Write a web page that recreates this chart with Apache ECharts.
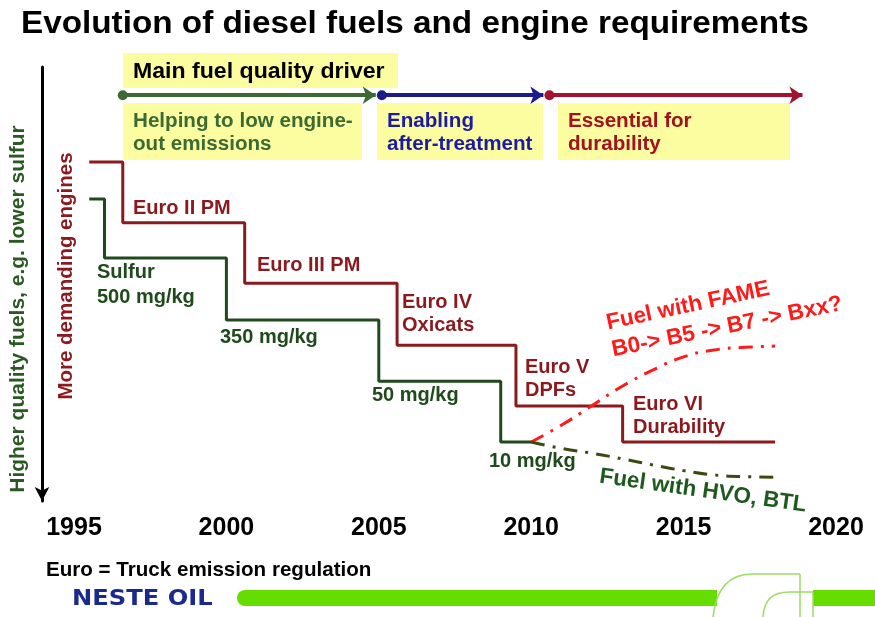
<!DOCTYPE html>
<html>
<head>
<meta charset="utf-8">
<title>Evolution of diesel fuels and engine requirements</title>
<script src="https://cdn.jsdelivr.net/npm/echarts@6/dist/echarts.min.js"></script>
<style>
	html, body { margin: 0; padding: 0; background: #fff; }
	#main { width: 875px; height: 617px; }
</style>
</head>
<body>
<div id="main"></div>
<script>
// x axis ticks (years)
var years = [1995, 2000, 2005, 2010, 2015, 2020];

// Euro emission limit steps: year of change, requirement level
var euroYears = [1995.5, 1996.6, 2000.6, 2005.6, 2009.5, 2013, 2018];
var euroLevels = [78.1, 64.1, 50.2, 35.9, 21.9, 13.6, 13.6];

// sulfur limit steps
var sulfurYears = [1995.5, 1996, 2000, 2005, 2009, 2010];
var sulfurLevels = [69.6, 56.0, 41.7, 27.6, 13.6, 13.6];

// future fuel paths after 2010
var futureYears = [2010, 2011, 2012, 2013, 2014, 2015, 2016, 2017, 2018];
var fameLevels = [13.6, 17.5, 22.0, 26.5, 30.2, 33.2, 34.8, 35.4, 35.7];
var hvoLevels = [13.6, 12.1, 11.0, 9.7, 8.3, 7.0, 6.0, 5.6, 5.5];

// main fuel quality driver phases
var driverStart = [1996.6, 2005.1, 2010.6];
var driverEnd = [2004.9, 2010.4, 2018.9];
var driverLevel = 93.5;

function pairs(xs, ys) {
	var out = [];
	for (var i = 0; i < xs.length; i++) {
		out.push([xs[i], ys[i]]);
	}
	return out;
}

var chart = echarts.init(document.getElementById('main'));

var sans = '"Liberation Sans", Arial, sans-serif';
var bold = function (size, family) {
	return 'bold ' + size + 'px ' + (family || sans);
};

var darkRed = '#8B1A1E';
var darkGreen = '#1F4A1B';
var boxYellow = '#FCFCA0';

// simple text element, opt can hold align / rotation / scaleX
function txt(text, x, y, color, font, opt) {
	var el = {
		type: 'text',
		x: x,
		y: y,
		z: 100,
		style: {
			text: text,
			fill: color,
			font: font,
			textAlign: 'left',
			textVerticalAlign: 'middle',
			align: 'left',
			verticalAlign: 'middle'
		}
	};
	if (opt) {
		for (var k in opt) {
			if (k === 'align') {
				el.style.textAlign = opt[k];
				el.style.align = opt[k];
			} else {
				el[k] = opt[k];
			}
		}
	}
	return el;
}

var driverColors = ['#3B6B33', '#1B1B8C', '#A3122E'];
var driverData = [];
for (var i = 0; i < driverStart.length; i++) {
	driverData.push({
		coords: [[driverStart[i], driverLevel], [driverEnd[i], driverLevel]],
		lineStyle: { color: driverColors[i] }
	});
}

var option = {
	backgroundColor: '#fff',
	animation: false,
	grid: {
		left: 74,
		right: 39,
		top: 67,
		bottom: 116
	},
	xAxis: {
		type: 'value',
		min: years[0],
		max: years[years.length - 1],
		interval: 5,
		axisLine: { show: false },
		axisTick: { show: false },
		splitLine: { show: false },
		axisLabel: {
			margin: 15,
			color: '#000',
			fontWeight: 'bold',
			fontSize: 25,
			fontFamily: sans,
			formatter: function (v) { return String(v); }
		}
	},
	yAxis: {
		type: 'value',
		min: 0,
		max: 100,
		offset: 32,
		axisLine: {
			show: true,
			symbol: ['arrow', 'none'],
			symbolSize: [11, 14],
			lineStyle: { color: '#000', width: 3 }
		},
		axisTick: { show: false },
		axisLabel: { show: false },
		splitLine: { show: false }
	},
	series: [{
		name: 'Euro',
		type: 'line',
		step: 'end',
		symbol: 'none',
		data: pairs(euroYears, euroLevels),
		lineStyle: { color: darkRed, width: 3 },
		z: 5
	}, {
		name: 'Sulfur',
		type: 'line',
		step: 'end',
		symbol: 'none',
		data: pairs(sulfurYears, sulfurLevels),
		lineStyle: { color: darkGreen, width: 3 },
		z: 5
	}, {
		name: 'Fuel with FAME',
		type: 'line',
		smooth: true,
		symbol: 'none',
		data: pairs(futureYears, fameLevels),
		lineStyle: { color: '#FF1A1A', width: 3, type: [14, 8, 3, 8] },
		z: 6
	}, {
		name: 'Fuel with HVO, BTL',
		type: 'line',
		smooth: true,
		symbol: 'none',
		data: pairs(futureYears, hvoLevels),
		lineStyle: { color: '#3A4A12', width: 3, type: [14, 8, 3, 8] },
		z: 6
	}, {
		name: 'Driver',
		type: 'lines',
		coordinateSystem: 'cartesian2d',
		symbol: ['circle', 'arrow'],
		symbolSize: [10, 13],
		lineStyle: { width: 4, opacity: 1, curveness: 0 },
		data: driverData,
		z: 7
	}],
	graphic: [
		// title
		txt('Evolution of diesel fuels and engine requirements', 21, 24, '#000', bold(32), { scaleX: 1.04 }),

		// yellow boxes
		{ type: 'rect', shape: { x: 123, y: 53, width: 275, height: 35 }, style: { fill: boxYellow }, z: 1 },
		{ type: 'rect', shape: { x: 123, y: 103, width: 239, height: 57 }, style: { fill: boxYellow }, z: 1 },
		{ type: 'rect', shape: { x: 377, y: 103, width: 166, height: 57 }, style: { fill: boxYellow }, z: 1 },
		{ type: 'rect', shape: { x: 558, y: 103, width: 232, height: 57 }, style: { fill: boxYellow }, z: 1 },

		txt('Main fuel quality driver', 133, 72, '#000', bold(22), { scaleX: 1.05 }),
		txt('Helping to low engine-', 133, 121, '#3B6B33', bold(20), { scaleX: 1.03 }),
		txt('out emissions', 133, 144, '#3B6B33', bold(20), { scaleX: 1.03 }),
		txt('Enabling', 387, 121, '#1B1BA6', bold(20), { scaleX: 1.03 }),
		txt('after-treatment', 387, 144, '#1B1BA6', bold(20), { scaleX: 1.03 }),
		txt('Essential for', 568, 121, '#A3121E', bold(20), { scaleX: 1.03 }),
		txt('durability', 568, 144, '#A3121E', bold(20), { scaleX: 1.03 }),

		// rotated axis captions
		txt('Higher quality fuels, e.g. lower sulfur', 18, 309, '#2A5A22', bold(21), { align: 'center', rotation: Math.PI / 2 }),
		txt('More demanding engines', 66, 276, darkRed, bold(20.5), { align: 'center', rotation: Math.PI / 2 }),

		// Euro steps
		txt('Euro II PM', 133, 208, darkRed, bold(20)),
		txt('Euro III PM', 257, 265, darkRed, bold(20)),
		txt('Euro IV', 402, 302, darkRed, bold(20)),
		txt('Oxicats', 402, 325, darkRed, bold(20)),
		txt('Euro V', 525, 367, darkRed, bold(20)),
		txt('DPFs', 525, 390, darkRed, bold(20)),
		txt('Euro VI', 633, 404, darkRed, bold(20)),
		txt('Durability', 633, 427, darkRed, bold(20)),

		// sulfur steps
		txt('Sulfur', 97, 272, darkGreen, bold(20)),
		txt('500 mg/kg', 97, 297, darkGreen, bold(20)),
		txt('350 mg/kg', 220, 337, darkGreen, bold(20)),
		txt('50 mg/kg', 372, 395, darkGreen, bold(20)),
		txt('10 mg/kg', 489, 461, darkGreen, bold(20)),

		// future fuels
		txt('Fuel with FAME', 688, 306, '#FF1A1A', bold(22.5), { align: 'center', rotation: 0.21 }),
		txt('B0-> B5 -> B7 -> Bxx?', 727, 327, '#FF1A1A', bold(22.5), { align: 'center', rotation: 0.2 }),
		txt('Fuel with HVO, BTL', 703, 491, '#1E5A1E', bold(22.5), { align: 'center', rotation: -0.14 }),

		// footer
		txt('Euro = Truck emission regulation', 46, 570, '#000', bold(21), { scaleX: 0.98 }),
		txt('NESTE OIL', 72, 599, '#1A2A8C', bold(22, '"DejaVu Sans", sans-serif'), { scaleX: 1.1 }),
		{ type: 'rect', shape: { x: 237, y: 590, width: 650, height: 16, r: 8 }, style: { fill: '#66DD00' }, z: 1 },
		{ type: 'rect', shape: { x: 717, y: 588, width: 96, height: 20 }, style: { fill: '#fff' }, z: 2 },
		{ type: 'bezierCurve', shape: { x1: 713, y1: 617, cpx1: 716, cpy1: 590, cpx2: 728, cpy2: 574, x2: 752, y2: 574 }, style: { stroke: '#9BDD66', lineWidth: 1.5, fill: null }, z: 3 },
		{ type: 'line', shape: { x1: 752, y1: 574, x2: 800, y2: 574 }, style: { stroke: '#9BDD66', lineWidth: 1.5 }, z: 3 },
		{ type: 'line', shape: { x1: 800, y1: 574, x2: 800, y2: 617 }, style: { stroke: '#9BDD66', lineWidth: 1.5 }, z: 3 },
		{ type: 'bezierCurve', shape: { x1: 763, y1: 617, cpx1: 764, cpy1: 600, cpx2: 772, cpy2: 592, x2: 790, y2: 592 }, style: { stroke: '#9BDD66', lineWidth: 1.5, fill: null }, z: 3 },
		{ type: 'line', shape: { x1: 790, y1: 592, x2: 813, y2: 592 }, style: { stroke: '#9BDD66', lineWidth: 1.5 }, z: 3 },
		{ type: 'line', shape: { x1: 813, y1: 592, x2: 813, y2: 617 }, style: { stroke: '#9BDD66', lineWidth: 1.5 }, z: 3 }
	]
};

chart.setOption(option);
</script>
</body>
</html>
